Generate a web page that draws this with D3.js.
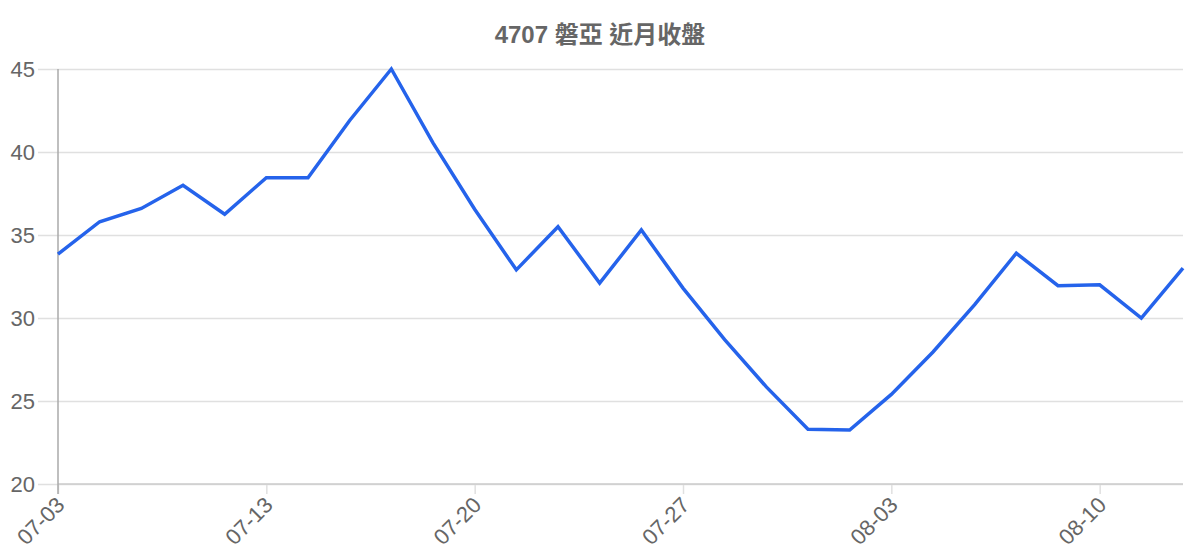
<!DOCTYPE html>
<html>
<head>
<meta charset="utf-8">
<script src="https://cdn.jsdelivr.net/npm/d3@7"></script>
<style>
  body { margin: 0; background: #fff; }
  svg text { font-family: "Liberation Sans", Arial, "Noto Sans CJK TC", sans-serif; }
</style>
</head>
<body>
<svg id="chart" width="1200" height="560"></svg>
<script>
var titleText = "4707 磐亞 近月收盤"
var dates = ["07-03","07-04","07-05","07-06","07-10","07-13","07-14","07-17","07-18","07-19",
             "07-20","07-21","07-24","07-25","07-26","07-27","07-28","07-31","08-01","08-02",
             "08-03","08-04","08-07","08-08","08-09","08-10","08-11","08-14"]
var closes = [33.85, 35.8, 36.6, 38.0, 36.25, 38.45, 38.45, 41.9, 45.0, 40.55,
              36.55, 32.9, 35.5, 32.1, 35.3, 31.8, 28.7, 25.85, 23.3, 23.25,
              25.4, 27.95, 30.8, 33.9, 31.95, 32.0, 30.0, 33.0]
var yTicks = [20, 25, 30, 35, 40, 45]
var labelEvery = 5

var svg = d3.select("#chart")
var margin = {top: 69, right: 17, bottom: 76, left: 58}
var width = 1200 - margin.left - margin.right
var height = 560 - margin.top - margin.bottom

var x = d3.scalePoint().domain(dates).range([0, width])
var y = d3.scaleLinear().domain([20, 45]).range([height, 0])

svg.append("text")
  .attr("x", 600).attr("y", 43)
  .attr("text-anchor", "middle")
  .attr("fill", "#666")
  .style("font-size", "24px")
  .style("font-weight", "bold")
  .text(titleText)

var g = svg.append("g").attr("transform", "translate(" + margin.left + "," + margin.top + ")")

// horizontal grid + y labels
var yAxis = g.append("g")
  .call(d3.axisLeft(y).tickValues(yTicks).tickSize(-width).tickFormat(d3.format("d")))
yAxis.select(".domain").remove()
yAxis.selectAll(".tick line").attr("stroke", "#e0e0e0").attr("stroke-width", 1.5).attr("x1", -20).attr("x2", width)
yAxis.selectAll(".tick text").attr("fill", "#666").style("font-size", "22px").attr("x", -23)

// vertical grid + x labels
var tickDates = dates.filter(function(d, i){ return i % labelEvery == 0 })
var xAxis = g.append("g")
  .attr("transform", "translate(0," + height + ")")
  .call(d3.axisBottom(x).tickValues(tickDates).tickSize(-height).tickPadding(0))
xAxis.select(".domain").remove()
xAxis.selectAll(".tick line").attr("stroke", "#e0e0e0").attr("stroke-width", 1.5).attr("y2", 10)
xAxis.selectAll(".tick text")
  .attr("fill", "#666")
  .style("font-size", "22px")
  .attr("text-anchor", "end")
  .attr("dy", "0.35em")
  .attr("y", 0)
  .attr("transform", "translate(2,17) rotate(-45)")

// axis lines
g.append("line").attr("x1", 0).attr("x2", width).attr("y1", height).attr("y2", height)
  .attr("stroke", "#cccccc").attr("stroke-width", 1.5)
g.append("line").attr("x1", 0).attr("x2", 0).attr("y1", 0).attr("y2", height + 10)
  .attr("stroke", "#aaaaaa").attr("stroke-width", 1.5)

var line = d3.line()
  .x(function(d, i){ return x(dates[i]) })
  .y(function(d){ return y(d) })

g.append("path")
  .datum(closes)
  .attr("fill", "none")
  .attr("stroke", "#2563eb")
  .attr("stroke-width", 3.5)
  .attr("d", line)
</script>
</body>
</html>
